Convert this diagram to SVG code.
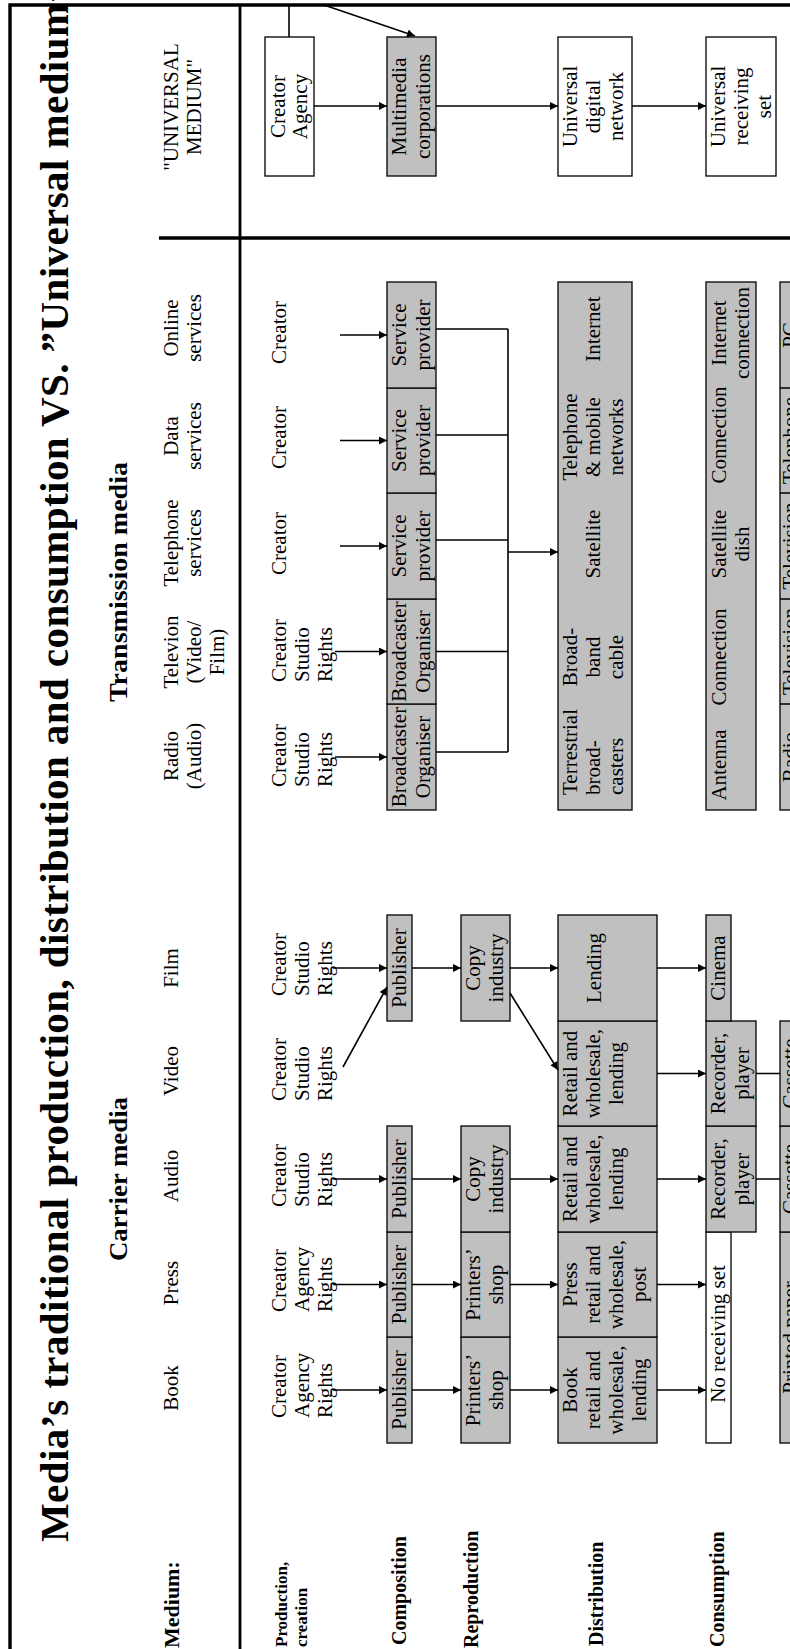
<svg xmlns="http://www.w3.org/2000/svg" width="790" height="1649" viewBox="0 0 790 1649">
<defs>
<style>
text{font-family:"Liberation Serif","Times New Roman",serif;font-size:21px;fill:#000}
.m{text-anchor:middle}
.b{font-weight:bold;font-size:20px}
.h{font-weight:bold;font-size:26px}
.ti{font-weight:bold;font-size:41px}
.g{fill:#c0c0c0;stroke:#111;stroke-width:1.4}
.w{fill:#fff;stroke:#111;stroke-width:1.4}
.c{stroke:#000;stroke-width:1.6;fill:none}
.a{marker-end:url(#ah)}
.f{stroke:#000;fill:none}
</style>
<marker id="ah" viewBox="0 0 10 10" refX="10" refY="5" markerWidth="10" markerHeight="8" markerUnits="userSpaceOnUse" orient="auto"><path d="M0,0L10,5L0,10z" fill="#000"/></marker>
</defs>
<rect width="790" height="1649" fill="#fff"/>
<g transform="translate(0,1649) rotate(-90)">
<g id="frame">
<path class="f" stroke-width="3.4" d="M0,10H1644V790"/>
<line class="f" stroke-width="2.8" x1="0" y1="240" x2="1644" y2="240"/>
<line class="f" stroke-width="3.4" x1="1411" y1="159" x2="1411" y2="790"/>
</g>
<g id="title"><text class="ti" x="107" y="68" textLength="1560" lengthAdjust="spacing">Media’s traditional production, distribution and consumption VS. ”Universal medium”</text></g>
<g id="group-headers">
<text class="h m" x="470" y="127" textLength="164" lengthAdjust="spacingAndGlyphs">Carrier media</text>
<text class="h m" x="1067" y="127" textLength="240" lengthAdjust="spacingAndGlyphs">Transmission media</text>
</g>
<g id="row-labels">
<text class="b" x="1" y="179" style="font-size:22px">Medium:</text>
<text class="b" x="2" y="287" style="font-size:17px">Production,</text>
<text class="b" x="2" y="307" style="font-size:17px">creation</text>
<text class="b" x="4" y="406">Composition</text>
<text class="b" x="1" y="478">Reproduction</text>
<text class="b" x="3" y="603">Distribution</text>
<text class="b" x="2" y="724">Consumption</text>
</g>
<g id="column-headers">
<text class="m" x="261" y="178">Book</text>
<text class="m" x="366" y="178">Press</text>
<text class="m" x="473" y="178">Audio</text>
<text class="m" x="578" y="178">Video</text>
<text class="m" x="681" y="178">Film</text>
<text class="m"><tspan x="893" y="178">Radio</tspan><tspan x="893" y="201">(Audio)</tspan></text>
<text class="m"><tspan x="997" y="178">Televion</tspan><tspan x="997" y="201">(Video/</tspan><tspan x="997" y="224">Film)</tspan></text>
<text class="m"><tspan x="1106" y="178">Telephone</tspan><tspan x="1106" y="201">services</tspan></text>
<text class="m"><tspan x="1213" y="178">Data</tspan><tspan x="1213" y="201">services</tspan></text>
<text class="m"><tspan x="1321" y="178">Online</tspan><tspan x="1321" y="201">services</tspan></text>
<text class="m"><tspan x="1542" y="178">"UNIVERSAL</tspan><tspan x="1542" y="201">MEDIUM"</tspan></text>
</g>
<g id="creators">
<text><tspan x="231" y="286">Creator</tspan><tspan x="231" y="309">Agency</tspan><tspan x="231" y="332">Rights</tspan></text>
<text><tspan x="337" y="286">Creator</tspan><tspan x="337" y="309">Agency</tspan><tspan x="337" y="332">Rights</tspan></text>
<text><tspan x="442" y="286">Creator</tspan><tspan x="442" y="309">Studio</tspan><tspan x="442" y="332">Rights</tspan></text>
<text><tspan x="548" y="286">Creator</tspan><tspan x="548" y="309">Studio</tspan><tspan x="548" y="332">Rights</tspan></text>
<text><tspan x="653" y="286">Creator</tspan><tspan x="653" y="309">Studio</tspan><tspan x="653" y="332">Rights</tspan></text>
<text><tspan x="862" y="286">Creator</tspan><tspan x="862" y="309">Studio</tspan><tspan x="862" y="332">Rights</tspan></text>
<text><tspan x="967" y="286">Creator</tspan><tspan x="967" y="309">Studio</tspan><tspan x="967" y="332">Rights</tspan></text>
<text x="1074" y="286">Creator</text>
<text x="1180" y="286">Creator</text>
<text x="1285" y="286">Creator</text>
</g>
<g id="book-publisher"><rect class="g" x="206" y="387" width="106" height="25"/><text class="m" x="259" y="406">Publisher</text></g>
<g id="press-publisher"><rect class="g" x="312" y="387" width="105" height="25"/><text class="m" x="364.5" y="406">Publisher</text></g>
<g id="audio-publisher"><rect class="g" x="417" y="387" width="106" height="25"/><text class="m" x="470" y="406">Publisher</text></g>
<g id="film-publisher"><rect class="g" x="628" y="387" width="106" height="25"/><text class="m" x="681" y="406">Publisher</text></g>
<g id="book-printers"><rect class="g" x="206" y="461" width="106" height="49"/><text class="m"><tspan x="259" y="480">Printers’</tspan><tspan x="259" y="503">shop</tspan></text></g>
<g id="press-printers"><rect class="g" x="312" y="461" width="105" height="49"/><text class="m"><tspan x="364.5" y="480">Printers’</tspan><tspan x="364.5" y="503">shop</tspan></text></g>
<g id="audio-copy"><rect class="g" x="417" y="461" width="106" height="49"/><text class="m"><tspan x="470" y="480">Copy</tspan><tspan x="470" y="503">industry</tspan></text></g>
<g id="film-copy"><rect class="g" x="628" y="461" width="106" height="49"/><text class="m"><tspan x="681" y="480">Copy</tspan><tspan x="681" y="503">industry</tspan></text></g>
<g id="book-distribution"><rect class="g" x="206" y="558" width="106" height="99"/><text class="m"><tspan x="259" y="577">Book</tspan><tspan x="259" y="600">retail and</tspan><tspan x="259" y="623">wholesale,</tspan><tspan x="259" y="646">lending</tspan></text></g>
<g id="press-distribution"><rect class="g" x="312" y="558" width="105" height="99"/><text class="m"><tspan x="364.5" y="577">Press</tspan><tspan x="364.5" y="600">retail and</tspan><tspan x="364.5" y="623">wholesale,</tspan><tspan x="364.5" y="646">post</tspan></text></g>
<g id="audio-distribution"><rect class="g" x="417" y="558" width="106" height="99"/><text class="m"><tspan x="470" y="577">Retail and</tspan><tspan x="470" y="600">wholesale,</tspan><tspan x="470" y="623">lending</tspan></text></g>
<g id="video-distribution"><rect class="g" x="523" y="558" width="105" height="99"/><text class="m"><tspan x="575.5" y="577">Retail and</tspan><tspan x="575.5" y="600">wholesale,</tspan><tspan x="575.5" y="623">lending</tspan></text></g>
<g id="film-distribution"><rect class="g" x="628" y="558" width="106" height="99"/><text class="m" x="681" y="601">Lending</text></g>
<g id="no-receiving-set"><rect class="w" x="206" y="706" width="211" height="25"/><text class="m" x="315" y="725">No receiving set</text></g>
<g id="audio-recorder"><rect class="g" x="417" y="706" width="106" height="50"/><text class="m"><tspan x="470" y="725">Recorder,</tspan><tspan x="470" y="749">player</tspan></text></g>
<g id="video-recorder"><rect class="g" x="523" y="706" width="105" height="50"/><text class="m"><tspan x="575.5" y="725">Recorder,</tspan><tspan x="575.5" y="749">player</tspan></text></g>
<g id="cinema"><rect class="g" x="628" y="706" width="106" height="25"/><text class="m" x="681" y="725">Cinema</text></g>
<g id="printed-paper"><rect class="g" x="206" y="780" width="211" height="40"/><text class="m" x="311.5" y="797">Printed paper</text></g>
<g id="audio-cassette"><rect class="g" x="417" y="780" width="106" height="40"/><text class="m" x="470" y="797">Cassette</text></g>
<g id="video-cassette"><rect class="g" x="523" y="780" width="105" height="40"/><text class="m" x="575.5" y="797">Cassette</text></g>
<g id="radio-broadcaster"><rect class="g" x="839" y="387" width="106" height="49"/><text class="m"><tspan x="892" y="406">Broadcaster</tspan><tspan x="892" y="430">Organiser</tspan></text></g>
<g id="tv-broadcaster"><rect class="g" x="945" y="387" width="105" height="49"/><text class="m"><tspan x="997.5" y="406">Broadcaster</tspan><tspan x="997.5" y="430">Organiser</tspan></text></g>
<g id="telephone-provider"><rect class="g" x="1050" y="387" width="106" height="49"/><text class="m"><tspan x="1103" y="406">Service</tspan><tspan x="1103" y="430">provider</tspan></text></g>
<g id="data-provider"><rect class="g" x="1156" y="387" width="105" height="49"/><text class="m"><tspan x="1208.5" y="406">Service</tspan><tspan x="1208.5" y="430">provider</tspan></text></g>
<g id="online-provider"><rect class="g" x="1261" y="387" width="106" height="49"/><text class="m"><tspan x="1314" y="406">Service</tspan><tspan x="1314" y="430">provider</tspan></text></g>
<g id="transmission-networks"><rect class="g" x="839" y="558" width="528" height="74"/>
<text><tspan x="854" y="577">Terrestrial</tspan><tspan x="854" y="600">broad-</tspan><tspan x="854" y="623">casters</tspan></text>
<text class="m"><tspan x="992" y="577">Broad-</tspan><tspan x="992" y="600">band</tspan><tspan x="992" y="623">cable</tspan></text>
<text class="m" x="1105" y="600">Satellite</text>
<text class="m"><tspan x="1212" y="577">Telephone</tspan><tspan x="1212" y="600">&amp; mobile</tspan><tspan x="1212" y="623">networks</tspan></text>
<text class="m" x="1320" y="600">Internet</text>
</g>
<g id="transmission-connections"><rect class="g" x="839" y="706" width="528" height="50"/>
<text class="m" x="884" y="726">Antenna</text>
<text class="m" x="992" y="726">Connection</text>
<text class="m"><tspan x="1105" y="726">Satellite</tspan><tspan x="1105" y="749">dish</tspan></text>
<text class="m" x="1214" y="726">Connection</text>
<text class="m"><tspan x="1316" y="726">Internet</tspan><tspan x="1316" y="749">connection</tspan></text>
</g>
<g id="transmission-sets"><rect class="g" x="839" y="780" width="528" height="40"/>
<path class="f" stroke-width="1.4" d="M945,780V820M1050,780V820M1156,780V820M1261,780V820"/>
<text class="m" x="892" y="797">Radio</text>
<text class="m" x="997.5" y="797">Television</text>
<text class="m" x="1103" y="797">Television</text>
<text class="m" x="1208.5" y="797">Telephone</text>
<text class="m" x="1314" y="797">PC</text>
</g>
<g id="universal-creator"><rect class="w" x="1473" y="265" width="139" height="49"/><text class="m"><tspan x="1542.5" y="285">Creator</tspan><tspan x="1542.5" y="307">Agency</tspan></text></g>
<g id="multimedia-corporations"><rect class="g" x="1473" y="387" width="139" height="49"/><text class="m"><tspan x="1542.5" y="406">Multimedia</tspan><tspan x="1542.5" y="430">corporations</tspan></text></g>
<g id="universal-network"><rect class="w" x="1473" y="558" width="139" height="74"/><text class="m"><tspan x="1542.5" y="577">Universal</tspan><tspan x="1542.5" y="600">digital</tspan><tspan x="1542.5" y="623">network</tspan></text></g>
<g id="universal-set"><rect class="w" x="1473" y="706" width="139" height="70"/><text class="m"><tspan x="1542.5" y="725">Universal</tspan><tspan x="1542.5" y="748">receiving</tspan><tspan x="1542.5" y="771">set</tspan></text></g>
<g id="connectors">
<path class="c a" d="M259,333V387"/>
<path class="c a" d="M364.5,333V387"/>
<path class="c a" d="M470,333V387"/>
<path class="c a" d="M681,333V387"/>
<path class="c a" d="M582,343L662,387"/>
<path class="c a" d="M259,412V461"/>
<path class="c a" d="M364.5,412V461"/>
<path class="c a" d="M470,412V461"/>
<path class="c a" d="M681,412V461"/>
<path class="c a" d="M259,510V558"/>
<path class="c a" d="M364.5,510V558"/>
<path class="c a" d="M470,510V558"/>
<path class="c a" d="M681,510V558"/>
<path class="c a" d="M656,510L579,558"/>
<path class="c a" d="M259,657V706"/>
<path class="c a" d="M364.5,657V706"/>
<path class="c a" d="M470,657V706"/>
<path class="c a" d="M575.5,657V706"/>
<path class="c a" d="M681,657V706"/>
<path class="c" d="M470,756V780M575.5,756V780"/>
<path class="c a" d="M892,335V387"/>
<path class="c a" d="M997.5,335V387"/>
<path class="c a" d="M1103,340V387"/>
<path class="c a" d="M1208.5,340V387"/>
<path class="c a" d="M1314,340V387"/>
<path class="c" d="M897,436V508M997.5,436V508M1109,436V508M1214,436V508M1320,436V508M897,508H1320"/>
<path class="c a" d="M1097,508V558"/>
<path class="c a" d="M1543,314V387"/>
<path class="c a" d="M1543,436V558"/>
<path class="c a" d="M1543,632V706"/>
<path class="c" d="M1612,289H1644"/>
<path class="c a" d="M1644,324L1613,415"/>
</g>
</g>
</svg>
